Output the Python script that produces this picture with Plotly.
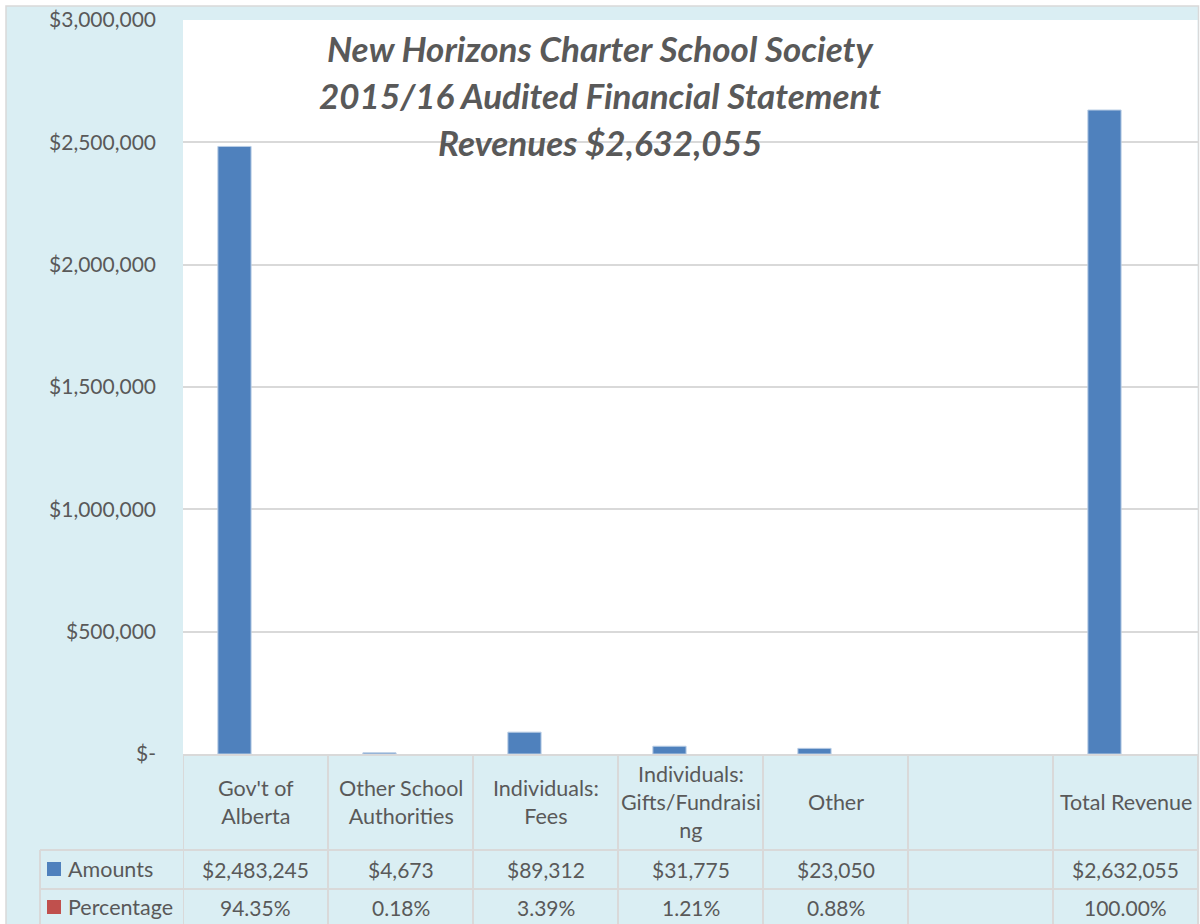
import plotly.graph_objects as go

# ---------------- data ----------------
categories = ["Gov't of<br>Alberta", "Other School<br>Authorities", "Individuals:<br>Fees",
              "Individuals:<br>Gifts/Fundraisi<br>ng", "Other", "", "Total Revenue"]
amounts = [2483245, 4673, 89312, 31775, 23050, None, 2632055]
percentages = [94.35, 0.18, 3.39, 1.21, 0.88, None, 100.00]
series_names = ["Amounts", "Percentage"]
y_ticks = [0, 500000, 1000000, 1500000, 2000000, 2500000, 3000000]
title_lines = ["New Horizons Charter School Society",
               "2015/16 Audited Financial Statement",
               "Revenues $2,632,055"]

# ---------------- styling ----------------
BLUE = "#4F81BD"
RED = "#C0504D"
BG = "#DAEEF3"
GRID = "#D9D9D9"
TXT = "#595959"
FONT = "Lato"

W, H = 1200, 924
L, R, T, B = 183, 1198, 20, 754
PW, PH = R - L, B - T


def px(x):
    return (x - L) / PW


def py(y):
    return (B - y) / PH


xs = list(range(len(categories)))

fig = go.Figure()
fig.add_trace(go.Bar(x=xs, y=amounts, name=series_names[0], marker_color=BLUE,
                     marker_line=dict(color="#B9CDE5", width=1)))
fig.add_trace(go.Bar(x=xs, y=[p / 100 if p is not None else None for p in percentages],
                     name=series_names[1], marker_color=RED, marker_line_width=0))

shapes = []
# outer chart area
shapes.append(dict(type="rect", xref="paper", yref="paper", x0=px(6), x1=px(1198.5),
                   y0=py(940), y1=py(6), fillcolor=BG, line=dict(color=GRID, width=1.5),
                   layer="below"))
# white plot area
shapes.append(dict(type="rect", xref="paper", yref="paper", x0=0, x1=px(1197.5),
                   y0=0, y1=1, fillcolor="white", line_width=0, layer="below"))
# table vertical lines (category boundaries)
for i in range(len(categories) + 1):
    shapes.append(dict(type="line", xref="x", yref="paper", x0=i - 0.5, x1=i - 0.5,
                       y0=0, y1=py(940), line=dict(color=GRID, width=2)))
# table left edge for series rows
shapes.append(dict(type="line", xref="paper", yref="paper", x0=px(40), x1=px(40),
                   y0=py(850), y1=py(940), line=dict(color=GRID, width=2)))
# table horizontal lines
for yy in (850, 889):
    shapes.append(dict(type="line", xref="paper", yref="paper", x0=px(40), x1=px(1198),
                       y0=py(yy), y1=py(yy), line=dict(color=GRID, width=2)))
# legend keys
for k, (col, yc) in enumerate([(BLUE, 869), (RED, 907)]):
    shapes.append(dict(type="rect", xref="paper", yref="paper", x0=px(47), x1=px(61),
                       y0=py(yc + 7), y1=py(yc - 7), fillcolor=col, line_width=0))

annotations = []
# title
for line, yc in zip(title_lines, [48, 95, 142]):
    annotations.append(dict(text=line, xref="paper", yref="paper", x=px(600), y=py(yc),
                            xanchor="center", yanchor="middle", showarrow=False,
                            font=dict(family=FONT, size=35, color=TXT, weight="bold",
                                      style="italic")))
# category header labels
for i, c in enumerate(categories):
    if c:
        annotations.append(dict(text=c, xref="x", yref="paper", x=i, y=py(802),
                                xanchor="center", yanchor="middle", showarrow=False,
                                font=dict(family=FONT, size=21.5, color=TXT)))
# value rows
for i, (a, p) in enumerate(zip(amounts, percentages)):
    if a is not None:
        annotations.append(dict(text="${:,}".format(a), xref="x", yref="paper", x=i,
                                y=py(869), xanchor="center", yanchor="middle",
                                showarrow=False, font=dict(family=FONT, size=21, color=TXT)))
    if p is not None:
        annotations.append(dict(text="{:.2f}%".format(p), xref="x", yref="paper", x=i,
                                y=py(907), xanchor="center", yanchor="middle",
                                showarrow=False, font=dict(family=FONT, size=21, color=TXT)))
# series labels
for name, yc in zip(series_names, [869, 907]):
    annotations.append(dict(text=name, xref="paper", yref="paper", x=px(66), y=py(yc),
                            xanchor="left", yanchor="middle", showarrow=False,
                            font=dict(family=FONT, size=21.5, color=TXT)))

fig.update_layout(
    width=W, height=H,
    margin=dict(l=L, r=W - R, t=T, b=H - B, pad=0),
    paper_bgcolor="white", plot_bgcolor="rgba(0,0,0,0)",
    barmode="group", bargap=0.42, bargroupgap=0.21,
    showlegend=False,
    shapes=shapes, annotations=annotations,
    xaxis=dict(range=[-0.5, len(categories) - 0.5], showticklabels=False, showgrid=False,
               zeroline=False, showline=True, linecolor=GRID, linewidth=2, ticks=""),
    yaxis=dict(range=[0, 3000000], tickvals=y_ticks,
               ticktext=["$-" if v == 0 else "${:,}".format(v) for v in y_ticks],
               showgrid=True, gridcolor=GRID, gridwidth=1.5, zeroline=False,
               showline=False, ticks="", ticklabelstandoff=26,
               tickfont=dict(family=FONT, size=21, color=TXT)),
)

fig.write_html("out.html")
